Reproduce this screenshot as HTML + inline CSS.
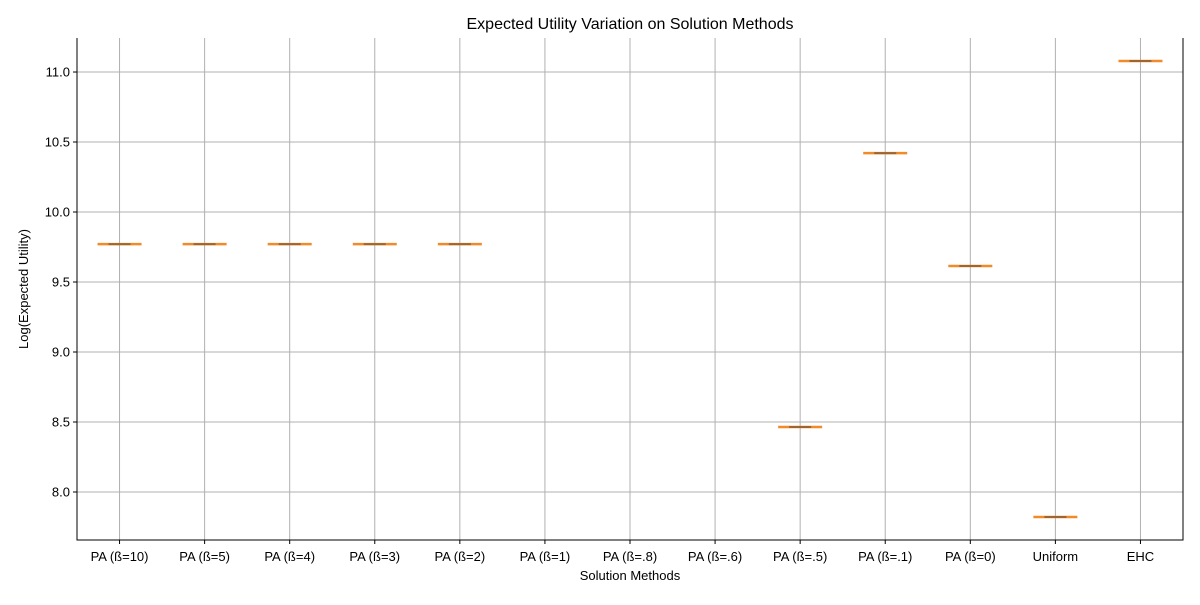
<!DOCTYPE html>
<html><head><meta charset="utf-8"><style>
body{margin:0;background:#fff;font-family:"Liberation Sans","DejaVu Sans",sans-serif}
</style></head><body>
<svg id="chart" width="1200" height="600" xmlns="http://www.w3.org/2000/svg" font-family="Liberation Sans, DejaVu Sans, sans-serif">
<text x="630" y="29" text-anchor="middle" font-size="16">Expected Utility Variation on Solution Methods</text>
<g id="grid"></g><g id="marks"></g><g id="axes"></g>
<text x="630" y="580" text-anchor="middle" font-size="13">Solution Methods</text>
<text transform="translate(28,289) rotate(-90)" text-anchor="middle" font-size="13">Log(Expected Utility)</text>
</svg>
<script>
const categories=["PA (ß=10)","PA (ß=5)","PA (ß=4)","PA (ß=3)","PA (ß=2)","PA (ß=1)","PA (ß=.8)","PA (ß=.6)","PA (ß=.5)","PA (ß=.1)","PA (ß=0)","Uniform","EHC"];
const values=[9.771,9.771,9.771,9.771,9.771,null,null,null,8.464,10.421,9.614,7.821,11.079];
const yTicks=[8.0,8.5,9.0,9.5,10.0,10.5,11.0];
const L=77,R=1183,T=38,B=540,yMin=7.657,yMax=11.243;
const xs=i=>L+(i+0.5)*(R-L)/categories.length;
const ys=v=>B-(v-yMin)/(yMax-yMin)*(B-T);
const NS="http://www.w3.org/2000/svg";
function mk(tag,attrs,parent,txt){const e=document.createElementNS(NS,tag);for(const k in attrs)e.setAttribute(k,attrs[k]);if(txt!==undefined)e.textContent=txt;document.getElementById(parent).appendChild(e);return e;}
yTicks.forEach(t=>{const y=ys(t);
 const g=mk('line',{x1:L,x2:R,y1:y,y2:y,stroke:'#b0b0b0','stroke-width':1},'grid');
 
 
 mk('line',{x1:L-4,x2:L,y1:y,y2:y,stroke:'#000'},'axes');
 const l=mk('text',{x:L-7,y:y+4.5,'text-anchor':'end','font-size':13},'axes',t.toFixed(1));
 
 
});
categories.forEach((c,i)=>{const x=xs(i);
 const g=mk('line',{x1:x,x2:x,y1:T,y2:B,stroke:'#b0b0b0','stroke-width':1},'grid');
 
 
 mk('line',{x1:x,x2:x,y1:B,y2:B+4,stroke:'#000'},'axes');
 const l=mk('text',{x:x,y:B+21,'text-anchor':'middle','font-size':13},'axes',c);
 
 
 const v=values[i]; if(v===null)return;
 const y=ys(v);
 const m=mk('line',{x1:x-22,x2:x+22,y1:y,y2:y,stroke:'#f08a2a','stroke-width':2.5},'marks');
 
 
 const b=mk('line',{x1:x-11,x2:x+11,y1:y,y2:y,stroke:'#7a5535','stroke-width':2,'stroke-opacity':0.7},'marks');
 
 
});
const ax=mk('path',{d:`M${L},${T}V${B}H${R}V${T}`,fill:'none',stroke:'#000','stroke-width':1},'axes');


</script>
</body></html>
